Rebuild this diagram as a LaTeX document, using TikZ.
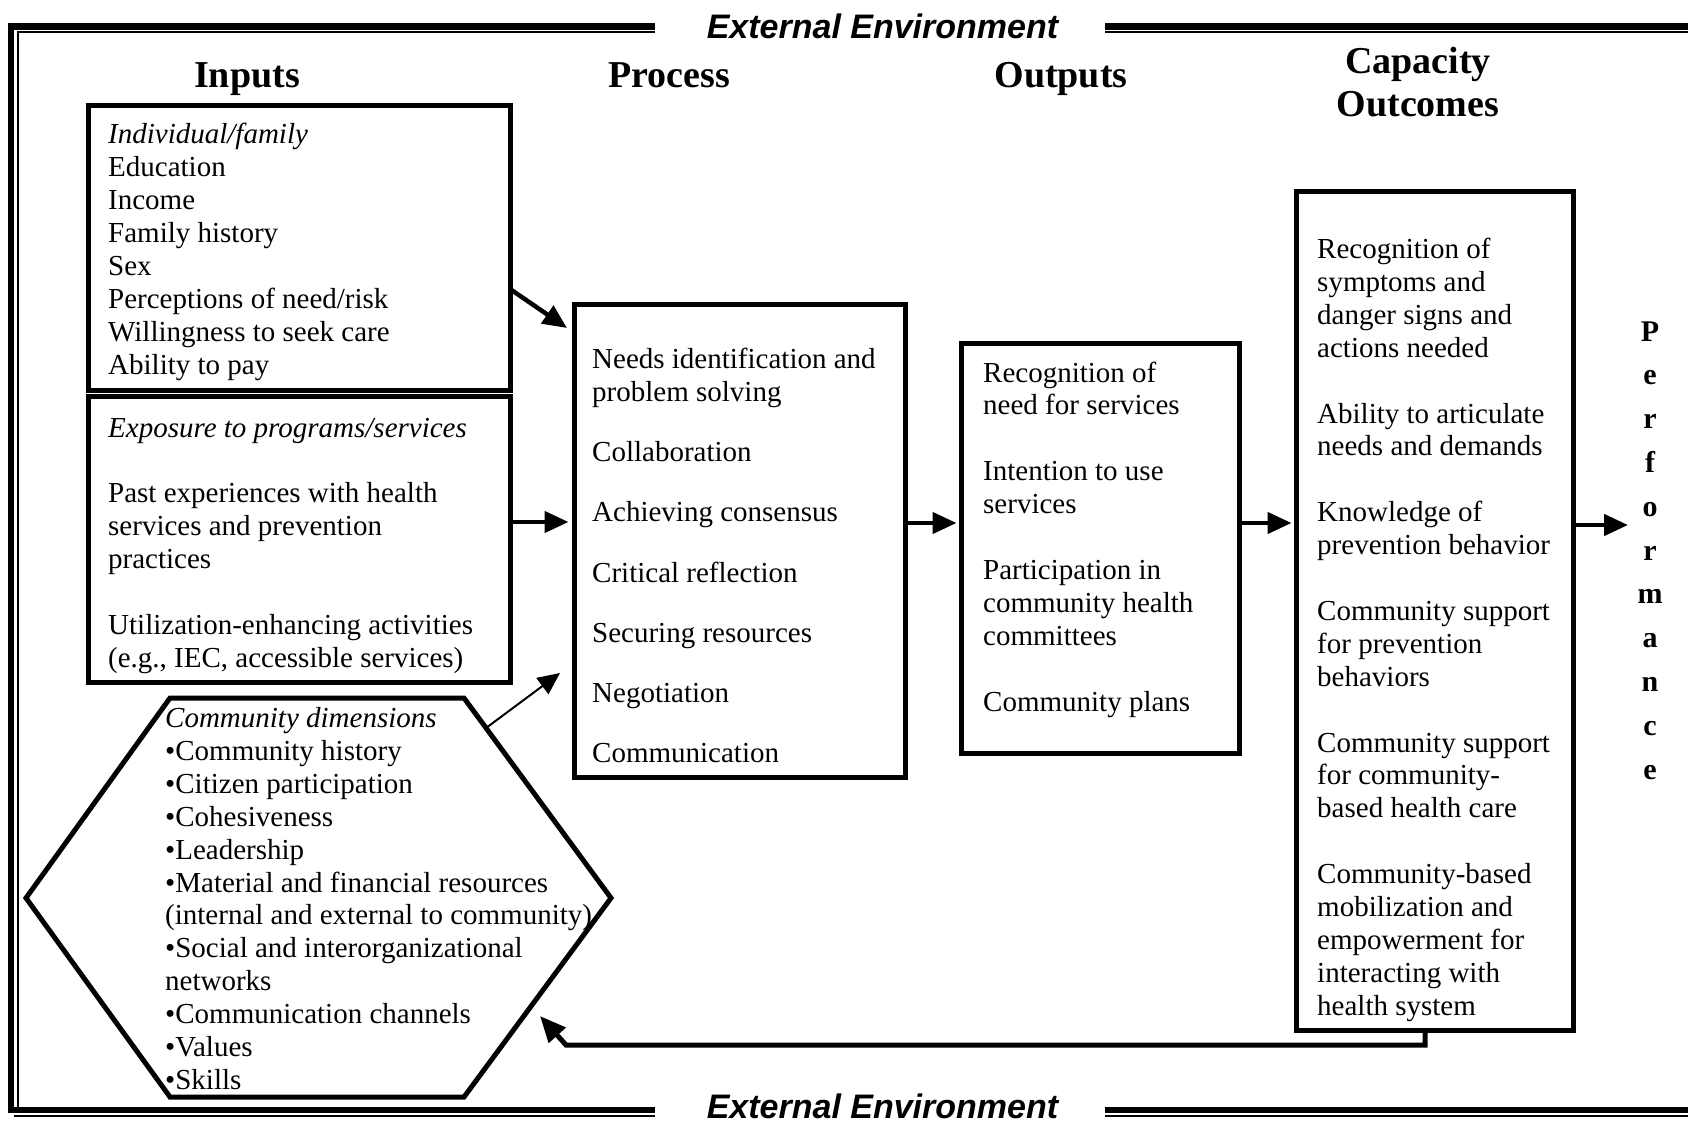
\documentclass[tikz,border=0pt]{standalone}
\usepackage{fontspec}
\setmainfont{Liberation Serif}
\newfontfamily\sansbi{Liberation Sans}
\usetikzlibrary{arrows.meta,calc}
\newcommand\txtlines[1]{\begin{tabular}[t]{@{}l@{}}#1\end{tabular}}
\tikzset{
  boxst/.style={draw, line width=5pt, inner sep=0pt, outer sep=0pt, anchor=north west},
  body/.style={font=\fontsize{29}{32.9}\selectfont, inner sep=0pt, anchor=base west},
  hdr/.style={font=\fontsize{38}{43}\selectfont\bfseries, inner sep=0pt, anchor=base},
  envtxt/.style={font=\fontsize{34}{40}\selectfont\sansbi\bfseries\itshape, inner sep=0pt, anchor=base},
  arr/.style={line width=4.5pt, -{Triangle[length=24pt,width=21pt]}},
  thinarr/.style={line width=2pt, -{Triangle[length=22pt,width=20pt]}},
  thickrule/.style={line width=6.5pt, line join=miter},
  thinrule/.style={line width=2pt},
}
\begin{document}
\begin{tikzpicture}[x=1pt,y=-1pt]
\useasboundingbox (0,0) rectangle (1688,1123);

% frame
\draw[thickrule] (655,26.5) -- (11,26.5) -- (11,1110) -- (655,1110);
\draw[thickrule] (1105,26.5) -- (1688,26.5);
\draw[thickrule] (1105,1110) -- (1688,1110);
\draw[thinrule] (655,32.5) -- (17.5,32.5) -- (17.5,1107);
\draw[thinrule] (1105,32.5) -- (1688,32.5);
\draw[thinrule] (14,1116) -- (655,1116);
\draw[thinrule] (1105,1116) -- (1688,1116);
\node[envtxt] (envtop) at (882.5,39) {External Environment};
\node[envtxt] (envbot) at (882.5,1118) {External Environment};

% headers
\node[hdr] (hin) at (247,88) {Inputs};
\node[hdr] (hpr) at (669,88) {Process};
\node[hdr] (hout) at (1061,88) {Outputs};
\node[hdr] (hcap) at (1418,74) {\begin{tabular}[t]{@{}c@{}}Capacity\\Outcomes\end{tabular}};

% boxes
\node[boxst, minimum width=421.5pt, minimum height=284.5pt] (b1) at (88.5,105.5) {};
\node[boxst, minimum width=421.5pt, minimum height=285.5pt] (b2) at (88.5,396.5) {};
\node[boxst, minimum width=331pt, minimum height=472.5pt] (p) at (574.5,304.5) {};
\node[boxst, minimum width=277.5pt, minimum height=410pt] (o) at (961.5,343.5) {};
\node[boxst, minimum width=277pt, minimum height=838.5pt] (cap) at (1296.5,191.5) {};

% hexagon
\coordinate (h1) at (26,898);
\coordinate (h2) at (170,698);
\coordinate (h3) at (464,698);
\coordinate (h4) at (611,898);
\coordinate (h5) at (464,1097);
\coordinate (h6) at (170,1097);
\draw[line width=5pt, line join=miter] (h1) -- (h2) -- (h3) -- (h4) -- (h5) -- (h6) -- cycle;

% texts
\node[body] (t1) at (108,144) {\txtlines{\textit{Individual/family}\\Education\\Income\\Family history\\Sex\\Perceptions of need/risk\\Willingness to seek care\\Ability to pay}};
\node[body] (t2) at (108,437) {\txtlines{\textit{Exposure to programs/services}\\ \\Past experiences with health\\services and prevention\\practices\\ \\Utilization-enhancing activities\\(e.g., IEC, accessible services)}};
\node[body] (tp) at (592,368.5) {\txtlines{Needs identification and\\problem solving\\[27.3pt]Collaboration\\[27.3pt]Achieving consensus\\[27.3pt]Critical reflection\\[27.3pt]Securing resources\\[27.3pt]Negotiation\\[27.3pt]Communication}};
\node[body] (to) at (983,382) {\txtlines{Recognition of\\need for services\\ \\Intention to use\\services\\ \\Participation in\\community health\\committees\\ \\Community plans}};
\node[body] (tc) at (1317,258.5) {\txtlines{Recognition of\\symptoms and\\danger signs and\\actions needed\\ \\Ability to articulate\\needs and demands\\ \\Knowledge of\\prevention behavior\\ \\Community support\\for prevention\\behaviors\\ \\Community support\\for community-\\based health care\\ \\Community-based\\mobilization and\\empowerment for\\interacting with\\health system}};
\node[body] (th) at (165,727.5) {\txtlines{\textit{Community dimensions}\\\textbullet Community history\\\textbullet Citizen participation\\\textbullet Cohesiveness\\\textbullet Leadership\\\textbullet Material and financial resources\\(internal and external to community)\\\textbullet Social and interorganizational\\networks\\\textbullet Communication channels\\\textbullet Values\\\textbullet Skills}};

% performance
\node[font=\fontsize{30}{43.8}\selectfont\bfseries, inner sep=0pt, anchor=base] (perf) at (1650,341) {\begin{tabular}[t]{@{}c@{}}P\\e\\r\\f\\o\\r\\m\\a\\n\\c\\e\end{tabular}};

% connectors
\coordinate (ya) at (0,289);
\coordinate (a1tip) at (567,328);
\draw[arr] (b1.east |- ya) -- (a1tip);
\coordinate (yb) at (0,522);
\draw[arr, shorten >=6pt] (b2.east |- yb) -- (p.west |- yb);
\coordinate (yc) at (0,523);
\draw[arr, shorten >=5pt] (p.east |- yc) -- (o.west |- yc);
\draw[arr, shorten >=5pt] (o.east |- yc) -- (cap.west |- yc);
\coordinate (perftip) at (1628,525);
\draw[arr] (cap.east |- perftip) -- (perftip);
\coordinate (hexa) at ($(h3)!0.15!(h4)$);
\coordinate (hextip) at (560,673);
\draw[thinarr] (hexa) -- (hextip);
\coordinate (fbx) at (1425,0);
\coordinate (fbcorner) at (566,1045);
\coordinate (fbtip) at (540,1016);
\draw[line width=5pt, line join=miter, -{Triangle[length=26pt,width=22pt]}] (cap.south -| fbx) |- (fbcorner) -- (fbtip);
\end{tikzpicture}
\end{document}
